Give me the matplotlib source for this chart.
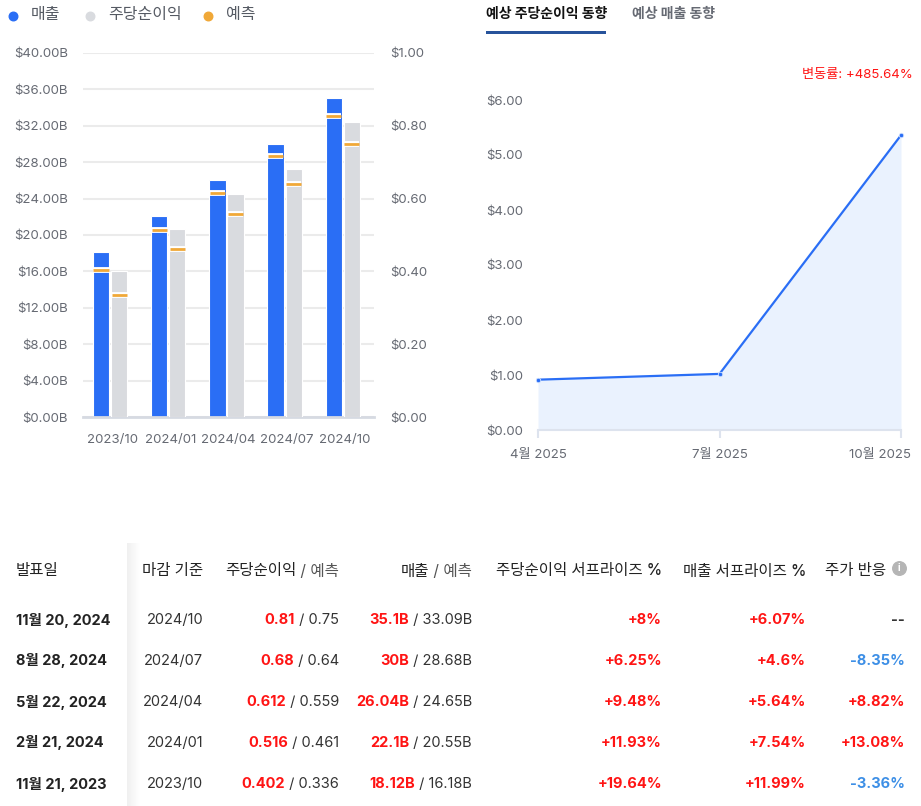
import numpy as np
import matplotlib
matplotlib.use("Agg")
import matplotlib.pyplot as plt
from matplotlib.transforms import ScaledTranslation

plt.rcParams['font.family'] = ['Inter', 'Noto Sans CJK KR', 'DejaVu Sans']

# ---------------- data ----------------
periods = ["2023/10", "2024/01", "2024/04", "2024/07", "2024/10"]
revenue = [18.12, 22.1, 26.04, 30.0, 35.1]            # $B
revenue_fc = [16.18, 20.55, 24.65, 28.68, 33.09]       # $B
eps = [0.402, 0.516, 0.612, 0.68, 0.81]
eps_fc = [0.336, 0.461, 0.559, 0.64, 0.75]

rev_ticks = [0, 4, 8, 12, 16, 20, 24, 28, 32, 36, 40]
eps_ticks = [0.0, 0.2, 0.4, 0.6, 0.8, 1.0]

trend_labels = ["4월 2025", "7월 2025", "10월 2025"]
trend_eps = [0.915, 1.02, 5.36]
trend_ticks = [0, 1, 2, 3, 4, 5, 6]
change_text = "변동률: +485.64%"

legend_labels = ["매출", "주당순이익", "예측"]
tab_labels = ["예상 주당순이익 동향", "예상 매출 동향"]

headers = ["발표일", "마감 기준", "주당순이익", "매출", "주당순이익 서프라이즈 %", "매출 서프라이즈 %", "주가 반응"]
dates = ["11월 20, 2024", "8월 28, 2024", "5월 22, 2024", "2월 21, 2024", "11월 21, 2023"]
ending = ["2024/10", "2024/07", "2024/04", "2024/01", "2023/10"]
eps_act = ["0.81", "0.68", "0.612", "0.516", "0.402"]
eps_est = ["0.75", "0.64", "0.559", "0.461", "0.336"]
rev_act = ["35.1B", "30B", "26.04B", "22.1B", "18.12B"]
rev_est = ["33.09B", "28.68B", "24.65B", "20.55B", "16.18B"]
eps_surp = ["+8%", "+6.25%", "+9.48%", "+11.93%", "+19.64%"]
rev_surp = ["+6.07%", "+4.6%", "+5.64%", "+7.54%", "+11.99%"]
price_react = ["--", "-8.35%", "+8.82%", "+13.08%", "-3.36%"]

# ---------------- style ----------------
BLUE = "#2a6ef5"
GRAY = "#d9dbdf"
ORANGE = "#f0a838"
TICK = "#666a73"
GRID = "#ebebeb"
RED = "#ff1414"
NEG = "#3d8fe6"
DARK = "#222222"

W, H = 921, 806
fig = plt.figure(figsize=(W / 100, H / 100), dpi=100)
PX = 72 / 100  # points per pixel

def fx(px):
    return px / W

def fy(py):
    return 1 - py / H

# ---------------- bar chart ----------------
axb = fig.add_axes([fx(83), fy(417), fx(374 - 83), (417 - 53) / H])
x = np.arange(len(periods))
bw = 0.28
off_rev = -0.19
off_eps = 0.12
axb.set_xlim(-0.5, len(periods) - 0.5)
axb.set_ylim(0, 40)
xr = x + off_rev
xe = x + off_eps
axb.bar(xr, revenue, bw, color=BLUE, edgecolor="white", linewidth=0.8, zorder=3)
axb.hlines(revenue_fc, xr - bw / 2 + 0.01, xr + bw / 2 - 0.01, colors="white", linewidth=4.2, zorder=4)
axb.hlines(revenue_fc, xr - bw / 2 + 0.01, xr + bw / 2 - 0.01, colors=ORANGE, linewidth=2.0, zorder=5)
axb.set_yticks(rev_ticks)
axb.set_yticklabels([f"${v:.2f}B" for v in rev_ticks])
axb.set_xticks(x)
axb.set_xticklabels(periods)
axb.grid(axis="y", color=GRID, linewidth=1.5, zorder=0)
for s in ["top", "right", "left"]:
    axb.spines[s].set_visible(False)
axb.spines["bottom"].set_color("#d6dae2")
axb.spines["bottom"].set_linewidth(2)
axb.spines["bottom"].set_zorder(6)
axb.tick_params(axis="both", length=0, colors=TICK, labelsize=9.5)
axb.tick_params(axis="y", pad=15 * PX)
axb.tick_params(axis="x", pad=17 * PX)

axe = axb.twinx()
axe.set_ylim(0, 1.0)
axe.bar(xe, eps, bw, color=GRAY, edgecolor="white", linewidth=0.8, zorder=3)
axe.hlines(eps_fc, xe - bw / 2 + 0.01, xe + bw / 2 - 0.01, colors="white", linewidth=4.2, zorder=4)
axe.hlines(eps_fc, xe - bw / 2 + 0.01, xe + bw / 2 - 0.01, colors=ORANGE, linewidth=2.0, zorder=5)
axe.set_yticks(eps_ticks)
axe.set_yticklabels([f"${v:.2f}" for v in eps_ticks])
for s in ["top", "right", "left", "bottom"]:
    axe.spines[s].set_visible(False)
axe.tick_params(axis="y", length=0, colors=TICK, labelsize=9.5, pad=16 * PX)

# ---------------- line chart ----------------
axl = fig.add_axes([fx(538), fy(430), fx(901 - 538), (430 - 100) / H])
xt = np.arange(len(trend_labels))
axl.set_xlim(0, len(trend_labels) - 1)
axl.set_ylim(0, 6)
axl.fill_between(xt, trend_eps, 0, color="#eaf2fe", zorder=1, linewidth=0)
axl.plot(xt, trend_eps, color=BLUE, linewidth=1.6, zorder=3, clip_on=False,
         marker="o", markersize=3.2, markeredgecolor="#cfe0ff", markeredgewidth=0.6)
axl.set_yticks(trend_ticks)
axl.set_yticklabels([f"${v:.2f}" for v in trend_ticks])
axl.set_xticks(xt)
axl.set_xticklabels(trend_labels)
for s in ["top", "right", "left"]:
    axl.spines[s].set_visible(False)
axl.spines["bottom"].set_color("#dde3ee")
axl.spines["bottom"].set_linewidth(1.5)
axl.tick_params(axis="y", length=0, colors=TICK, labelsize=9.5, pad=15 * PX)
axl.tick_params(axis="x", length=6, width=1.5, color="#dde3ee", labelcolor=TICK, labelsize=9.5, pad=8)
lbls = axl.get_xticklabels()
lbls[-1].set_transform(lbls[-1].get_transform() + ScaledTranslation(-21 / 100, 0, fig.dpi_scale_trans))

# ---------------- overlay (pixel coordinates) ----------------
ov = fig.add_axes([0, 0, 1, 1], zorder=10)
ov.set_xlim(0, W)
ov.set_ylim(H, 0)
ov.axis("off")
ov.patch.set_alpha(0)

# legend
leg_colors = [BLUE, GRAY, ORANGE]
leg_x = [13, 90, 208]
for lx, c, lab in zip(leg_x, leg_colors, legend_labels):
    ov.scatter([lx], [16], s=38, color=c, zorder=11)
    ov.text(lx + 18, 15, lab, fontsize=11.5, color="#555a63", va="center", ha="left")

# tabs
ov.text(486, 14, tab_labels[0], fontsize=10, fontweight="bold", color="#111111", va="center", ha="left")
ov.text(632, 14, tab_labels[1], fontsize=10, fontweight="bold", color="#666a73", va="center", ha="left")
ov.add_patch(plt.Rectangle((486, 30.5), 120, 3, color="#27539b", linewidth=0))
ov.text(913, 75, change_text, fontsize=9.5, color=RED, va="center", ha="right")

# table shadow
grad = np.linspace(0, 1, 64).reshape(1, -1)
ov.imshow(grad, extent=(127, 140, 806, 543), cmap=matplotlib.colors.LinearSegmentedColormap.from_list(
    "sh", ["#f0f0f0", "#ffffff"]), aspect="auto", zorder=1)
ov.set_xlim(0, W)
ov.set_ylim(H, 0)

renderer = fig.canvas.get_renderer()

def rtext(xr_, y, parts, size=10.5):
    """Right-aligned multi-colour text: parts = [(text, color, weight), ...]"""
    cur = xr_
    for txt, col, wt in reversed(parts):
        t = ov.text(cur, y, txt, fontsize=size, color=col, fontweight=wt, ha="right", va="center", zorder=12)
        bb = t.get_window_extent(renderer=renderer)
        cur -= bb.width

HDR_Y = 571
ROW_Y = [620, 661, 702, 743, 784]
FS = 10.5
HFS = 11.2

ov.text(16, HDR_Y, headers[0], fontsize=HFS, color=DARK, ha="left", va="center", fontweight="medium")
rtext(203, HDR_Y, [(headers[1], DARK, "medium")], HFS)
rtext(339, HDR_Y, [(headers[2], DARK, "medium"), (" / 예측", "#555555", "normal")], HFS)
rtext(472, HDR_Y, [(headers[3], DARK, "medium"), (" / 예측", "#555555", "normal")], HFS)
rtext(662, HDR_Y, [(headers[4], DARK, "medium")], HFS)
rtext(806, HDR_Y, [(headers[5], DARK, "medium")], HFS)
rtext(886, HDR_Y, [(headers[6], DARK, "medium")], HFS)
ov.scatter([899], [568], s=95, color="#b5b5b5", zorder=12)
ov.text(899, 568, "i", fontsize=7, color="white", fontweight="bold", ha="center", va="center", zorder=13)

for i, y in enumerate(ROW_Y):
    ov.text(16, y, dates[i], fontsize=FS, color=DARK, fontweight="bold", ha="left", va="center")
    rtext(203, y, [(ending[i], "#333333", "normal")], FS)
    rtext(339, y, [(eps_act[i], RED, "bold"), (" / " + eps_est[i], "#333333", "normal")], FS)
    rtext(472, y, [(rev_act[i], RED, "bold"), (" / " + rev_est[i], "#333333", "normal")], FS)
    rtext(662, y, [(eps_surp[i], RED, "bold")], FS)
    rtext(806, y, [(rev_surp[i], RED, "bold")], FS)
    pr = price_react[i]
    col = "#333333" if pr == "--" else (NEG if pr.startswith("-") else RED)
    rtext(905, y, [(pr, col, "bold")], FS)

fig.savefig("out.png", dpi=100, facecolor="white")
